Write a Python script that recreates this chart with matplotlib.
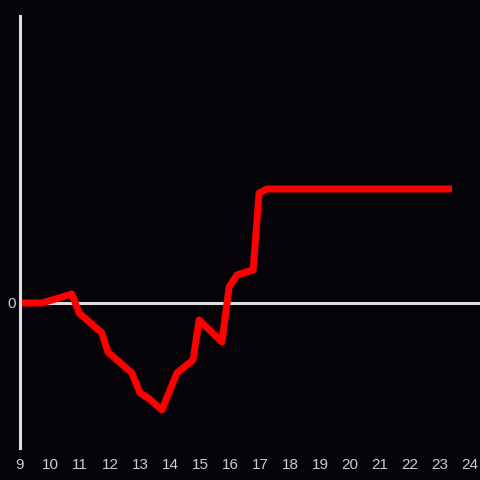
import matplotlib
matplotlib.use("Agg")
import matplotlib.pyplot as plt

# hour of day and cumulative value (arbitrary units, 0 = baseline)
hours = [9.0, 9.73, 10.73, 10.97, 11.73, 11.93, 12.73, 13.0, 13.27, 13.73,
         14.23, 14.77, 14.97, 15.73, 15.97, 16.23, 16.77, 16.97, 17.23, 23.4]
values = [0, 0, 0.9, -1.0, -3.0, -4.9, -7.0, -9.0, -9.5, -10.7,
          -7.0, -5.7, -1.7, -3.9, 1.6, 2.8, 3.3, 11.0, 11.4, 11.4]
xticks = list(range(9, 25))

bg = "#050307"
axis_col = "#dedede"
text_col = "#cccccc"

plt.rcParams["font.family"] = ["Liberation Sans", "DejaVu Sans"]

fig = plt.figure(figsize=(4.8, 4.8), dpi=100, facecolor=bg)
ax = fig.add_axes([20 / 480, 32 / 480, 460 / 480, 432 / 480])
ax.set_facecolor(bg)

ax.axhline(0, color=axis_col, lw=2.2, zorder=1)
ax.plot(hours, values, color="#ff0000", lw=5, solid_capstyle="butt",
        solid_joinstyle="round", zorder=2)

ax.set_xlim(9, 9 + 460 / 30)
ax.set_ylim(-14.5, 28.7)

for s in ["top", "right", "bottom"]:
    ax.spines[s].set_visible(False)
ax.spines["left"].set_color(axis_col)
ax.spines["left"].set_linewidth(2.2)

ax.set_xticks(xticks)
ax.set_xticklabels([str(h) for h in xticks])
ax.set_yticks([0])
ax.set_yticklabels(["0"])
ax.tick_params(axis="both", length=0, colors=text_col, labelsize=11)
ax.tick_params(axis="x", pad=7)
ax.tick_params(axis="y", pad=3)

fig.savefig("out.png", dpi=100, facecolor=bg)
